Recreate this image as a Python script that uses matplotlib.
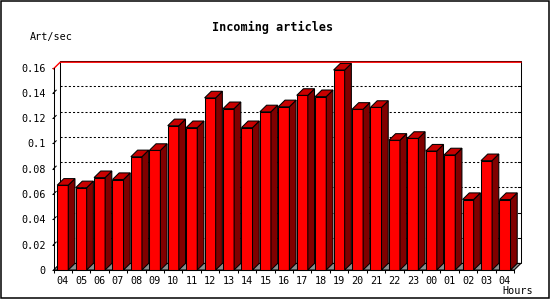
#!/usr/bin/env python3
"""
Incoming articles per hour - 3D style bar chart.
"""

import matplotlib
matplotlib.use("Agg")
import matplotlib.pyplot as plt
from matplotlib.patches import Polygon, Rectangle
from matplotlib.transforms import ScaledTranslation

# Data
hours = ['04', '05', '06', '07', '08', '09', '10', '11', '12', '13', '14', '15', '16',
         '17', '18', '19', '20', '21', '22', '23', '00', '01', '02', '03', '04']
rates = [0.067, 0.065, 0.073, 0.0715, 0.0895, 0.0945, 0.114, 0.1125, 0.136, 0.1275,
         0.1125, 0.125, 0.129, 0.138, 0.137, 0.158, 0.127, 0.1285, 0.1025, 0.104,
         0.094, 0.091, 0.0557, 0.0864, 0.0557]
y_ticks = [0, 0.02, 0.04, 0.06, 0.08, 0.1, 0.12, 0.14, 0.16]
y_labels = ['0', '0.02', '0.04', '0.06', '0.08', '0.1', '0.12', '0.14', '0.16']

W, H, DPI = 550, 300, 100
FONT = 'DejaVu Sans Mono'

fig = plt.figure(figsize=(W / DPI, H / DPI), dpi=DPI)

# front plane of the plot in pixels
left_px, right_px, bottom_px, top_px = 53.5, 514.2, 270, 67.5
ax = fig.add_axes([left_px / W, 1 - bottom_px / H,
                   (right_px - left_px) / W, (bottom_px - top_px) / H])

n = len(rates)
ymax = 0.16
ax.set_xlim(0, n)
ax.set_ylim(0, ymax)
ax.patch.set_visible(False)

# depth offset (pixels -> data units)
depth_x_px, depth_y_px = 6.7, 6.6
DX = depth_x_px * n / (right_px - left_px)
DY = depth_y_px * ymax / (bottom_px - top_px)

lw = 0.75

# floor
ax.add_patch(Polygon([(0, 0), (n, 0), (n + DX, DY), (DX, DY)], closed=True,
                     facecolor='#8c8c8c', edgecolor='black', lw=lw,
                     clip_on=False, zorder=1))

# back plane box
ax.add_patch(Rectangle((DX, DY), n, ymax, facecolor='none', edgecolor='black',
                       lw=lw, clip_on=False, zorder=1))

# dotted grid on back plane
for v in y_ticks[1:-1]:
    ax.plot([DX, n + DX], [v + DY, v + DY], color='black', lw=lw,
            linestyle=(0, (2, 2)), clip_on=False, zorder=1.5)
    # tick on the back right edge
    ax.plot([n + DX - 0.17, n + DX], [v + DY, v + DY], color='black', lw=lw,
            clip_on=False, zorder=1.5)
    # small depth tick on the front axis
    ax.plot([0, DX * 0.4], [v, v + DY * 0.4], color='black', lw=lw,
            clip_on=False, zorder=1.5)

# red line at top of scale
red_tr = ax.transData + ScaledTranslation(0, -1.3 / DPI, fig.dpi_scale_trans)
ax.plot([0, DX, n + DX], [ymax, ymax + DY, ymax + DY], color='#ff0000', lw=1.0,
        transform=red_tr, clip_on=False, zorder=2)

# bars
bw = 0.6
for i, v in enumerate(rates):
    x0 = i + (1 - bw) / 2
    x1 = x0 + bw
    front = Polygon([(x0, 0), (x1, 0), (x1, v), (x0, v)], closed=True,
                    facecolor='#ff0000', edgecolor='black', lw=lw,
                    clip_on=False, zorder=3)
    side = Polygon([(x1, 0), (x1 + DX, DY), (x1 + DX, v + DY), (x1, v)], closed=True,
                   facecolor='#800000', edgecolor='black', lw=lw,
                   clip_on=False, zorder=3)
    top = Polygon([(x0, v), (x1, v), (x1 + DX, v + DY), (x0 + DX, v + DY)], closed=True,
                  facecolor='#c80000', edgecolor='black', lw=lw,
                  clip_on=False, zorder=3)
    ax.add_patch(front)
    ax.add_patch(side)
    ax.add_patch(top)

# axes
for s in ['top', 'right']:
    ax.spines[s].set_visible(False)
for s in ['left', 'bottom']:
    ax.spines[s].set_linewidth(lw)
    ax.spines[s].set_zorder(4)

ax.set_yticks(y_ticks)
ax.set_yticklabels(y_labels, family=FONT, fontsize=7.3)
ax.tick_params(axis='y', direction='out', length=1.6, width=lw, pad=4.2)

ax.set_xticks([i + 0.5 for i in range(n)])
ax.set_xticklabels(hours, family=FONT, fontsize=7.3)
ax.set_xticks(range(n + 1), minor=True)
ax.tick_params(axis='x', which='major', length=0, pad=4.0)
ax.tick_params(axis='x', which='minor', direction='out', length=2.4, width=lw)

# texts
fig.text(273 / W, 1 - 27 / H, 'Incoming articles', ha='center', va='center',
         family=FONT, fontsize=8.5, fontweight='bold')
fig.text(30 / W, 1 - 37 / H, 'Art/sec', ha='left', va='center',
         family=FONT, fontsize=7.3)
fig.text(533 / W, 1 - 291.5 / H, 'Hours', ha='right', va='center',
         family=FONT, fontsize=7.3)

# outer frame
fig.patches.append(Rectangle((0.6 / W, 2.3 / H), 548.6 / W, 297 / H,
                             transform=fig.transFigure, fill=False,
                             edgecolor='black', lw=1.1))

fig.savefig('out.png', dpi=DPI, facecolor='white')
